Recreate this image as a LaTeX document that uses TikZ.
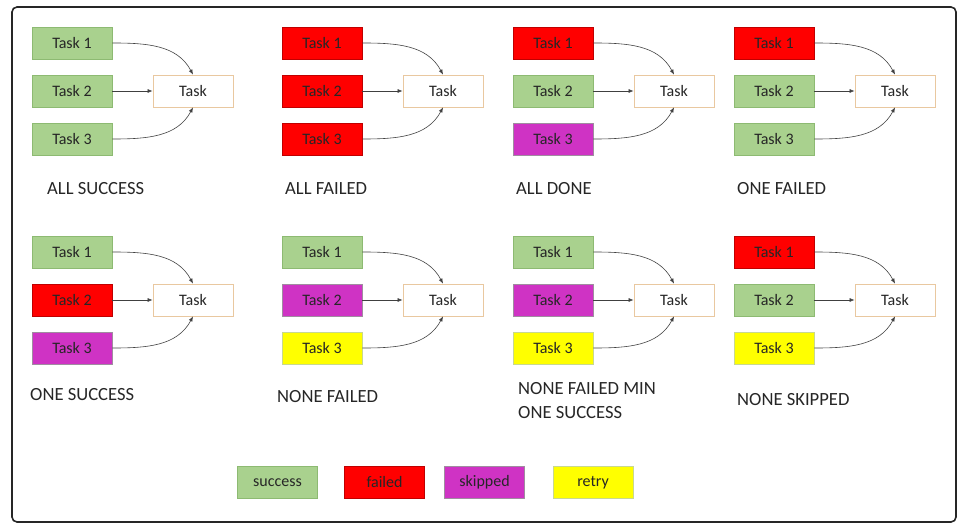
\documentclass[tikz,border=0pt]{standalone}
\usepackage{fontspec}
\setmainfont{Carlito}
\usepackage{xcolor}
\usetikzlibrary{arrows.meta,positioning}

\definecolor{okfill}{HTML}{A9D18E}
\definecolor{okline}{HTML}{8DBA72}
\definecolor{badfill}{HTML}{FF0000}
\definecolor{badline}{HTML}{C00000}
\definecolor{skipfill}{HTML}{CF33C4}
\definecolor{skipline}{HTML}{A08CA0}
\definecolor{tryfill}{HTML}{FFFF00}
\definecolor{tryline}{HTML}{C8D890}
\definecolor{tgtline}{HTML}{E9C8A0}
\definecolor{ink}{HTML}{262626}

\tikzset{
  srcbox/.style={fill=#1fill, draw=#1line, line width=0.8pt, minimum width=80pt,
    minimum height=32pt, inner sep=0pt, text=ink, font=\fontsize{16}{19}\selectfont},
  tgtbox/.style={fill=white, draw=tgtline, line width=0.8pt, minimum width=80pt,
    minimum height=32pt, inner sep=0pt, text=ink, font=\fontsize{16}{19}\selectfont},
  flow/.style={draw=black!75, line width=0.6pt, -{Latex[length=5pt,width=4pt]}},
  caption/.style={anchor=base west, inner sep=0pt, text=ink, font=\fontsize{18.6}{22}\selectfont}
}

\begin{document}
\begin{tikzpicture}[x=1pt, y=-1pt]
    \useasboundingbox (0,0) rectangle (967,532);
    \draw[line width=1.6pt, black!85, rounded corners=5pt] (12,7) rectangle (956,522);

    % one panel per trigger rule
    \foreach \px/\py/\ca/\cb/\cc/\n in {32/43/ok/ok/ok/a, 282/43/bad/bad/bad/b,
        513/43/bad/ok/skip/c, 734/43/bad/ok/ok/d, 32/252/ok/bad/skip/e,
        282/252/ok/skip/try/f, 513/252/ok/skip/try/g, 734/252/bad/ok/try/h} {
      \node[srcbox=\ca] (\n1) at (\px+40,\py) {Task 1};
      \node[srcbox=\cb] (\n2) at (\px+40,\py+48) {Task 2};
      \node[srcbox=\cc] (\n3) at (\px+40,\py+96) {Task 3};
      \node[tgtbox] (\n t) at (\px+161,\py+48) {Task};
      \draw[flow] (\n1.east) to[out=0, in=118] (\n t.north);
      \draw[flow] (\n2.east) -- (\n t.west);
      \draw[flow] (\n3.east) to[out=0, in=242] (\n t.south);
    }

    % rule names
    \node[caption] (la) at (47,194) {ALL SUCCESS};
    \node[caption] (lb) at (285,194) {ALL FAILED};
    \node[caption] (lc) at (516,194) {ALL DONE};
    \node[caption] (ld) at (737,194) {ONE FAILED};
    \node[caption] (le) at (30,400) {ONE SUCCESS};
    \node[caption] (lf) at (277,402) {NONE FAILED};
    \node[caption] (lg) at (518,394) {NONE FAILED MIN};
    \node[caption] (lg2) at (518,418) {ONE SUCCESS};
    \node[caption] (lh) at (737,405) {NONE SKIPPED};

    % legend
    \node[srcbox=ok] (kok) at (277.5,482.5) {success};
    \node[srcbox=bad] (kbad) at (384.5,482.5) {failed};
    \node[srcbox=skip] (kskip) at (484.5,482.5) {skipped};
    \node[srcbox=try] (ktry) at (593,482.5) {retry};
\end{tikzpicture}
\end{document}
